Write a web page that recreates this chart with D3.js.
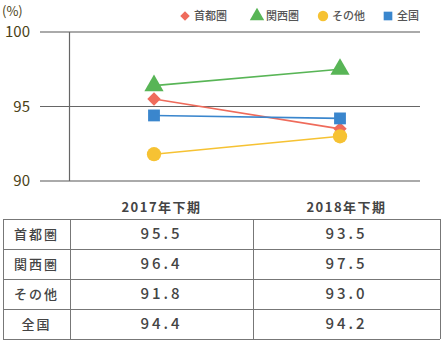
<!DOCTYPE html>
<html>
<head>
<meta charset="utf-8">
<script src="https://cdn.jsdelivr.net/npm/d3@7"></script>
<style>
  html, body { margin: 0; padding: 0; background: #fff; }
  svg { display: block; font-family: "Noto Sans CJK JP", "Noto Sans", sans-serif; }
</style>
</head>
<body>
<svg id="chart" width="442" height="340"></svg>
<script>
// Periods (x categories)
const periods = ["2017年下期", "2018年下期"];
// Regions, in legend order
const regions = ["首都圏", "関西圏", "その他", "全国"];
// Values per region, one per period (%)
const shutoken = [95.5, 93.5];
const kansai   = [96.4, 97.5];
const sonota   = [91.8, 93.0];
const zenkoku  = [94.4, 94.2];
const yTicks = [90, 95, 100];

const seriesValues = [shutoken, kansai, sonota, zenkoku];
const colors = ["#ef6b5b", "#58b556", "#f6c233", "#3a86cd"];
// Diamond is drawn as a square turned 45 degrees
const symbols = [d3.symbolSquare, d3.symbolTriangle, d3.symbolCircle, d3.symbolSquare];
const rotations = [45, 0, 0, 0];
const symSizes = [90, 160, 160, 140];
const legendSizes = [45, 90, 85, 75];

const svg = d3.select("#chart");

const x = d3.scalePoint().domain(periods).range([154, 340]);
const y = d3.scaleLinear().domain([90, 100]).range([181, 32]);

// Horizontal gridlines
svg.append("g").selectAll("line").data(yTicks).join("line")
  .attr("x1", 40).attr("x2", 420)
  .attr("y1", d => y(d)).attr("y2", d => y(d))
  .attr("stroke", d => d === 95 ? "#666" : "#aaa")
  .attr("stroke-width", d => d === 95 ? 1.2 : 2);

// Vertical axis line
svg.append("line")
  .attr("x1", 69.5).attr("x2", 69.5)
  .attr("y1", y(100)).attr("y2", y(90))
  .attr("stroke", "#666").attr("stroke-width", 1.2);

// Y tick labels
svg.append("g").selectAll("text").data(yTicks).join("text")
  .attr("x", 30).attr("y", d => y(d))
  .attr("dy", "0.36em")
  .attr("text-anchor", "end")
  .attr("fill", "#4a4216")
  .attr("font-size", 15)
  .text(d => d);

svg.append("text")
  .attr("x", 2).attr("y", 16)
  .attr("fill", "#4a4216")
  .attr("font-size", 13)
  .text("(%)");

// Series lines and markers
const line = d3.line().x((d, i) => x(periods[i])).y(d => y(d));
seriesValues.forEach((vals, s) => {
  svg.append("path")
    .attr("d", line(vals))
    .attr("fill", "none")
    .attr("stroke", colors[s])
    .attr("stroke-width", 1.6);
  svg.append("g").selectAll("path").data(vals).join("path")
    .attr("transform", (d, i) => `translate(${x(periods[i])},${y(d)}) rotate(${rotations[s]})`)
    .attr("d", d3.symbol().type(symbols[s]).size(symSizes[s]))
    .attr("fill", colors[s]);
});

// Legend
const legendX = [185, 257, 323, 388];
const leg = svg.append("g");
regions.forEach((r, i) => {
  leg.append("path")
    .attr("transform", `translate(${legendX[i]},16) rotate(${rotations[i]})`)
    .attr("d", d3.symbol().type(symbols[i]).size(legendSizes[i]))
    .attr("fill", colors[i]);
  leg.append("text")
    .attr("x", legendX[i] + 9).attr("y", 16)
    .attr("dy", "0.36em")
    .attr("font-size", 11)
    .attr("font-weight", 500)
    .attr("fill", "#555")
    .text(r);
});

// Table below the chart
const tLeft = 3, tRight = 440, tTop = 219, rowH = 30;
const colX = [tLeft, 70, 253, tRight];
const colCenter = [(colX[0] + colX[1]) / 2, (colX[1] + colX[2]) / 2, (colX[2] + colX[3]) / 2];

// Column headers
svg.append("g").selectAll("text").data(periods).join("text")
  .attr("x", (d, i) => colCenter[i + 1])
  .attr("y", 207)
  .attr("dy", "0.36em")
  .attr("text-anchor", "middle")
  .attr("font-size", 13)
  .attr("font-weight", "bold")
  .attr("letter-spacing", 1.5)
  .attr("fill", "#444")
  .text(d => d);

const tbl = svg.append("g");
const tBottom = tTop + rowH * regions.length;
// Row borders
d3.range(regions.length + 1).forEach(i => {
  tbl.append("line")
    .attr("x1", tLeft).attr("x2", tRight)
    .attr("y1", tTop + i * rowH + 0.5).attr("y2", tTop + i * rowH + 0.5)
    .attr("stroke", "#777").attr("stroke-width", 1);
});
colX.forEach(cx => {
  tbl.append("line")
    .attr("x1", cx + 0.5).attr("x2", cx + 0.5)
    .attr("y1", tTop).attr("y2", tBottom)
    .attr("stroke", "#777").attr("stroke-width", 1);
});

regions.forEach((r, ri) => {
  const cy = tTop + ri * rowH + rowH / 2;
  tbl.append("text")
    .attr("x", colCenter[0]).attr("y", cy)
    .attr("dy", "0.36em")
    .attr("text-anchor", "middle")
    .attr("font-size", 13)
    .attr("font-weight", 500)
    .attr("letter-spacing", 2)
    .attr("fill", "#444")
    .text(r);
  seriesValues[ri].forEach((v, ci) => {
    tbl.append("text")
      .attr("x", colCenter[ci + 1]).attr("y", cy)
      .attr("dy", "0.36em")
      .attr("text-anchor", "middle")
      .attr("font-size", 15)
      .attr("font-weight", 500)
      .attr("letter-spacing", 3)
      .attr("fill", "#444")
      .text(v.toFixed(1));
  });
});
</script>
</body>
</html>
